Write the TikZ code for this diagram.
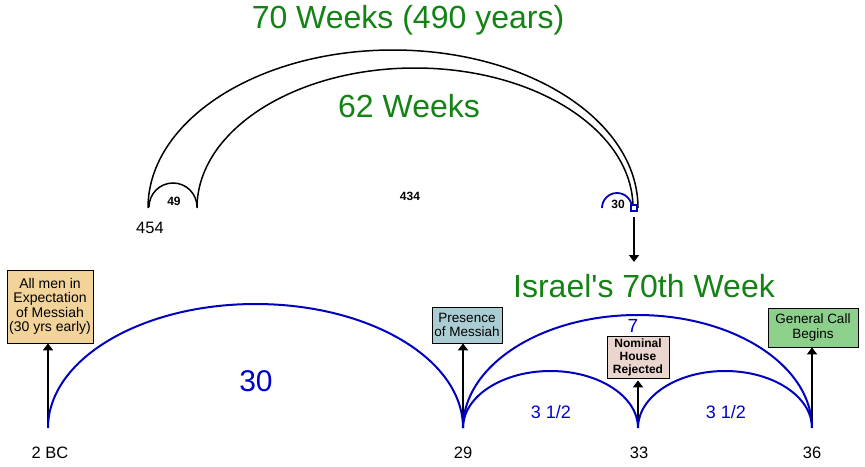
\documentclass[tikz,border=0pt]{standalone}
\usepackage{fontspec}
\setmainfont{Liberation Sans}
\newfontfamily\plainsans{Liberation Sans}
\usetikzlibrary{arrows.meta}
\definecolor{wkgreen}{RGB}{20,130,20}
\definecolor{arcblue}{RGB}{0,0,190}
\definecolor{txtblue}{RGB}{0,0,205}
\definecolor{tanfill}{RGB}{242,212,155}
\definecolor{bluefill}{RGB}{170,205,211}
\definecolor{pinkfill}{RGB}{234,214,206}
\definecolor{greenfill}{RGB}{140,208,140}
\tikzset{
  fsz/.style={font=\fontsize{#1}{#1}\selectfont},
  bigtitle/.style={text=wkgreen, font=\plainsans\fontsize{32}{38}\selectfont, inner sep=0pt},
  smallnum/.style={font=\bfseries\fontsize{12}{14}\selectfont, inner sep=0pt},
  yearlbl/.style={font=\fontsize{16.5}{18}\selectfont, inner sep=0pt},
  bluelbl/.style={text=txtblue, inner sep=0pt},
  blackarc/.style={draw=black, line width=1.5pt},
  bluearc/.style={draw=arcblue, line width=2pt},
  upfeed/.style={draw=black, line width=2pt, -{Triangle[width=10pt,length=7pt]}},
  infobox/.style={draw=black, line width=0.8pt, align=center, inner sep=0pt,
    font=\fontsize{13.5}{14.5}\selectfont},
}
\begin{document}
\begin{tikzpicture}[x=1pt,y=1pt]
\useasboundingbox (0,0) rectangle (865,-466);
\fill[white] (0,0) rectangle (865,-466);

% ---------- top section ----------
\coordinate (a454) at (148,-208);
\coordinate (a49r) at (197,-208);
\coordinate (a30l) at (602,-208);
\coordinate (topdown) at (634,-217);
\coordinate (topend) at (634,-262);

\draw[blackarc] (a454) arc[start angle=180, end angle=0, x radius=245pt, y radius=158pt];
\draw[blackarc] (a49r) arc[start angle=180, end angle=0, x radius=218pt, y radius=140pt];
\draw[blackarc] (149,-207) arc[start angle=180, end angle=0, x radius=24pt, y radius=24pt];
\draw[bluearc, line width=1.8pt] (a30l) arc[start angle=180, end angle=0, x radius=15pt, y radius=15pt];
\draw[draw=arcblue, line width=1.5pt, fill=white] (631,-205) rectangle (637,-211);
\draw[upfeed] (topdown) -- (topend);

\node[bigtitle] (t70) at (408,-20) {70 Weeks (490 years)};
\node[bigtitle] (t62) at (409,-106) {62 Weeks};
\node[smallnum] (t49) at (174,-201) {49};
\node[smallnum] (t434) at (410,-196) {434};
\node[smallnum] (t30s) at (618,-204) {30};
\node[yearlbl] (t454) at (150,-228) {454};
\node[bigtitle] (tisr) at (644,-286) {Israel's 70th Week};

% ---------- bottom section ----------
\coordinate (p2bc) at (48,-428);
\coordinate (p29) at (463,-428);
\coordinate (p33) at (638,-428);
\coordinate (p36) at (812,-428);

\node[infobox, fill=tanfill, minimum width=86pt, minimum height=73pt,
  font=\fontsize{14}{14.5}\selectfont] (men) at (50,-306.5)
  {All men in\\Expectation\\of Messiah\\(30 yrs early)};
\node[infobox, fill=bluefill, minimum width=70pt, minimum height=36pt] (pres) at (467,-325)
  {Presence\\of Messiah};
\node[infobox, fill=pinkfill, minimum width=62pt, minimum height=42pt,
  font=\bfseries\fontsize{12}{13}\selectfont] (nom) at (638,-357)
  {Nominal\\House\\Rejected};
\node[infobox, fill=greenfill, minimum width=90pt, minimum height=39pt] (gen) at (813,-327.5)
  {General Call\\Begins};

\draw[upfeed] (p2bc) -- (p2bc |- men.south);
\draw[upfeed] (p29) -- (p29 |- pres.south);
\draw[upfeed] (p33) -- ([yshift=-2pt]p33 |- nom.south);
\draw[upfeed] (p36) -- (p36 |- gen.south);

\draw[bluearc] (p2bc) arc[start angle=180, end angle=0, x radius=207.5pt, y radius=124pt];
\draw[bluearc] (p29) arc[start angle=180, end angle=0, x radius=174.5pt, y radius=113pt];
\draw[bluearc] (p29) arc[start angle=180, end angle=0, x radius=87.5pt, y radius=57pt];
\draw[bluearc] (p33) arc[start angle=180, end angle=0, x radius=87pt, y radius=57pt];

\node[bluelbl, fsz=30] (t30) at (256,-381) {30};
\node[bluelbl, fsz=19] (t7) at (633,-326) {7};
\node[bluelbl, fsz=18] (th1) at (551,-412) {3 1/2};
\node[bluelbl, fsz=18] (th2) at (726,-412) {3 1/2};

\node[yearlbl] (l2bc) at (50,-453) {2 BC};
\node[yearlbl] (l29) at (463,-453) {29};
\node[yearlbl] (l33) at (639,-453) {33};
\node[yearlbl] (l36) at (812,-453) {36};
\end{tikzpicture}
\end{document}
